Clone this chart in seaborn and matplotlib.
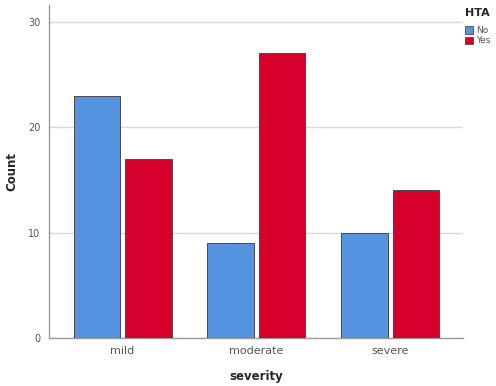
import pandas as pd
import matplotlib.pyplot as plt
import seaborn as sns
from matplotlib.patches import Patch

severidad = ['mild', 'moderate', 'severe']
hta_no = [23, 9, 10]
hta_si = [17, 27, 14]
grupos = ['No', 'Yes']
colores = ['#5592e0', '#d5002b']

# tabla larga para seaborn
df = pd.DataFrame({
    'severity': severidad * 2,
    'HTA': ['No'] * len(severidad) + ['Yes'] * len(severidad),
    'Count': hta_no + hta_si,
})

sns.set_style('white')
plt.rcParams['font.family'] = ['DejaVu Sans']

fig = plt.figure(figsize=(4.96, 3.86), dpi=100)
ax = fig.add_axes([0.0988, 0.1244, 0.8347, 0.8627])

sns.barplot(data=df, x='severity', y='Count', hue='HTA', hue_order=grupos,
            palette=colores, saturation=1, width=0.77, gap=0.1,
            edgecolor='#4a4a4a', linewidth=0.7, legend=False, ax=ax, zorder=3)

ax.set_xlim(-0.55, 2.545)
ax.set_ylim(0, 31.6)
ax.set_yticks([0, 10, 20, 30])
ax.yaxis.grid(True, color='#d9d9d9', linewidth=1, zorder=0)
ax.set_axisbelow(True)

for s in ['top', 'right']:
    ax.spines[s].set_visible(False)
for s in ['left', 'bottom']:
    ax.spines[s].set_color('#9a9a9a')
    ax.spines[s].set_linewidth(1)

ax.tick_params(axis='both', length=0, colors='#555555', labelsize=7)
ax.tick_params(axis='x', labelsize=8, pad=6)
ax.tick_params(axis='y', pad=6)

ax.set_xlabel('severity', fontsize=8.5, fontweight='bold', labelpad=10)
ax.set_ylabel('Count', fontsize=8.5, fontweight='bold', labelpad=7)

# leyenda fuera del area, arriba a la derecha
handles = [Patch(facecolor=c, edgecolor='#4a4a4a', linewidth=0.6) for c in colores]
leg = fig.legend(handles, grupos, title='HTA', loc='upper left',
                 bbox_to_anchor=(0.938, 0.98), frameon=False, fontsize=6.5,
                 title_fontproperties={'weight': 'bold', 'size': 8},
                 handlelength=0.9, handleheight=0.9, handletextpad=0.3,
                 labelspacing=0.15, borderaxespad=0, borderpad=0)
for t in leg.get_texts():
    t.set_color('#555555')
leg._legend_box.align = 'left'
leg._legend_box.sep = 6

plt.savefig('out.png', dpi=100)
plt.close()
